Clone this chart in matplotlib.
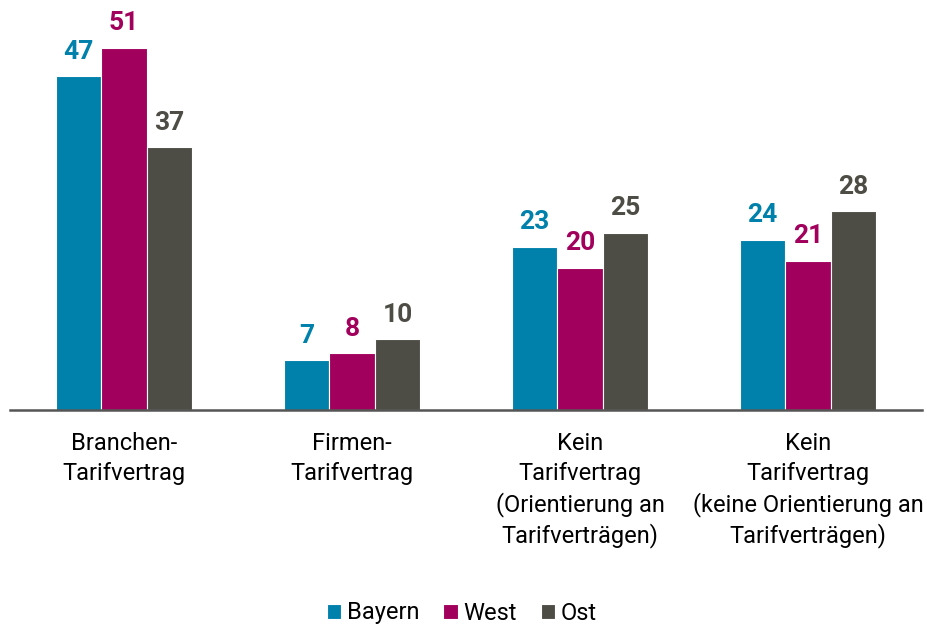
import matplotlib
matplotlib.use("Agg")
import matplotlib.pyplot as plt
import numpy as np

categories = ["Branchen-\nTarifvertrag", "Firmen-\nTarifvertrag",
              "Kein\nTarifvertrag\n(Orientierung an\nTarifverträgen)",
              "Kein\nTarifvertrag\n(keine Orientierung an\nTarifverträgen)"]
series_names = ["Bayern", "West", "Ost"]
bayern = [47, 7, 23, 24]
west = [51, 8, 20, 21]
ost = [37, 10, 25, 28]
colors = ["#0081AB", "#A1005C", "#4E4D45"]

FONT = ["Roboto", "Liberation Sans", "DejaVu Sans"]
plt.rcParams["font.family"] = FONT

fig = plt.figure(figsize=(9.28, 6.28), dpi=100)
ax = fig.add_axes([10/928, 1 - 410/628, 912/928, 410/628])

x = np.arange(len(categories))
w = 0.2
for i, (name, vals, c) in enumerate(zip(series_names, [bayern, west, ost], colors)):
    xs = x + (i - 1) * w
    ax.bar(xs, vals, width=w, color=c, edgecolor="white", linewidth=0.8, label=name, zorder=2)
    for xi, v in zip(xs, vals):
        ax.annotate(str(v), (xi, v), xytext=(0, 9), textcoords="offset points",
                    ha="center", va="bottom", fontsize=19, fontweight="bold", color=c)

ax.set_xlim(-0.5, 3.5)
ax.set_ylim(0, 410/7.1)
for s in ["top", "right", "left"]:
    ax.spines[s].set_visible(False)
ax.spines["bottom"].set_color("#555555")
ax.spines["bottom"].set_linewidth(1.8)
ax.set_yticks([])
ax.set_xticks(x)
ax.set_xticklabels(categories, fontsize=17, linespacing=1.36, va="top")
ax.tick_params(axis="x", length=0, pad=16)

leg = fig.legend(loc="center", bbox_to_anchor=(462/928, 1 - 613/628), ncol=3, frameon=False,
                 fontsize=17, handlelength=0.6, handleheight=0.6, handletextpad=0.25,
                 columnspacing=1.0)

fig.savefig("out.png", dpi=100)
